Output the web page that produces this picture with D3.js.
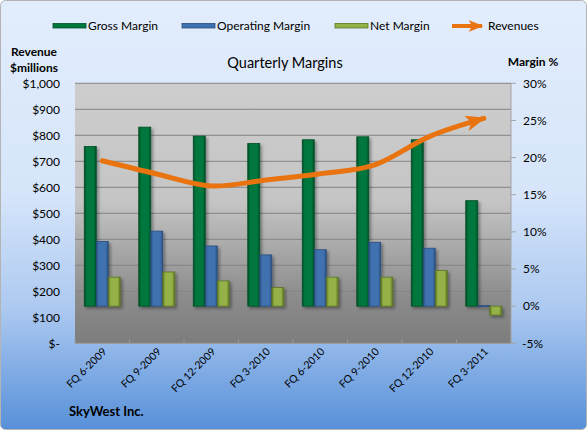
<!DOCTYPE html>
<html>
<head>
<meta charset="utf-8">
<script src="https://cdn.jsdelivr.net/npm/d3@7.9.0/dist/d3.min.js"></script>
<style>
  body { margin: 0; }
  svg { display: block; font-family: Lato, "Open Sans", sans-serif; }
  text { fill: #000; }
</style>
</head>
<body>
<svg id="chart" width="587" height="430"></svg>
<script>
const categories = ['FQ 6-2009', 'FQ 9-2009', 'FQ 12-2009', 'FQ 3-2010', 'FQ 6-2010', 'FQ 9-2010', 'FQ 12-2010', 'FQ 3-2011'];
const grossMargin = [21.5, 24.1, 22.9, 21.9, 22.4, 22.8, 22.4, 14.2];
const operatingMargin = [8.7, 10.1, 8.1, 6.9, 7.6, 8.6, 7.8, 0.1];
const netMargin = [3.9, 4.6, 3.4, 2.5, 3.9, 3.9, 4.8, -1.2];
const revenues = [702, 651, 605, 628, 652, 686, 795, 865];
const revenueTicks = [0, 100, 200, 300, 400, 500, 600, 700, 800, 900, 1000];
const marginTicks = [-5, 0, 5, 10, 15, 20, 25, 30];
const seriesNames = ['Gross Margin', 'Operating Margin', 'Net Margin'];

let colors = {
  'Gross Margin': ['#004f27', '#00773d'],
  'Operating Margin': ['#2a4e7e', '#4072b0'],
  'Net Margin': ['#5c7424', '#94b246'],
};
let orange = '#e8730f';

let svg = d3.select('#chart');
let defs = svg.append('defs');

let bg = defs.append('linearGradient').attr('id', 'bg').attr('x1', 0).attr('y1', 0).attr('x2', 0).attr('y2', 1);
bg.append('stop').attr('offset', '0%').attr('stop-color', '#e2edfc');
bg.append('stop').attr('offset', '45%').attr('stop-color', '#d6e5fa');
bg.append('stop').attr('offset', '72%').attr('stop-color', '#acc9f0');
bg.append('stop').attr('offset', '100%').attr('stop-color', '#5790d9');

let wall = defs.append('linearGradient').attr('id', 'wall').attr('x1', 0).attr('y1', 0).attr('x2', 0).attr('y2', 1);
wall.append('stop').attr('offset', '0%').attr('stop-color', '#cdcdcd');
wall.append('stop').attr('offset', '45%').attr('stop-color', '#c5c5c5');
wall.append('stop').attr('offset', '82%').attr('stop-color', '#8c8c8c');
wall.append('stop').attr('offset', '100%').attr('stop-color', '#7d7d7d');

seriesNames.forEach((name, i) => {
  let g = defs.append('linearGradient').attr('id', 'bar' + i).attr('x1', 0).attr('y1', 0).attr('x2', 1).attr('y2', 0);
  g.append('stop').attr('offset', '0%').attr('stop-color', colors[name][0]);
  g.append('stop').attr('offset', '22%').attr('stop-color', colors[name][1]);
  g.append('stop').attr('offset', '78%').attr('stop-color', colors[name][1]);
  g.append('stop').attr('offset', '100%').attr('stop-color', colors[name][0]);
});

defs.append('filter').attr('id', 'shadow').attr('x', '-30%').attr('y', '-10%').attr('width', '160%').attr('height', '130%')
  .append('feDropShadow').attr('dx', 2).attr('dy', 2).attr('stdDeviation', 1.5).attr('flood-opacity', 0.35);

defs.append('marker')
  .attr('id', 'arrow')
  .attr('markerUnits', 'userSpaceOnUse')
  .attr('viewBox', '0 0 20 16')
  .attr('refX', 18).attr('refY', 8)
  .attr('markerWidth', 20).attr('markerHeight', 16)
  .attr('orient', 'auto')
  .append('path')
  .attr('d', 'M0,0 L20,8 L0,16 L5,8 Z')
  .attr('fill', orange);

defs.append('marker')
  .attr('id', 'arrowSmall')
  .attr('markerUnits', 'userSpaceOnUse')
  .attr('viewBox', '0 0 20 16')
  .attr('refX', 18).attr('refY', 8)
  .attr('markerWidth', 15).attr('markerHeight', 12)
  .attr('orient', 'auto')
  .append('path')
  .attr('d', 'M0,0 L20,8 L0,16 L5,8 Z')
  .attr('fill', orange);

svg.append('rect')
  .attr('x', 0.5).attr('y', 0.5).attr('width', 586).attr('height', 429)
  .attr('rx', 5).attr('fill', 'url(#bg)').attr('stroke', '#b4b4b4');

let plotLeft = 75, plotRight = 511, plotTop = 83.3, plotBottom = 343.3;

let x = d3.scaleBand().domain(categories).range([plotLeft, plotRight]).paddingInner(0.34).paddingOuter(0.17);
let xc = d3.scalePoint().domain(categories).range([plotLeft, plotRight]).padding(0.5);
let sub = d3.scaleBand().domain(seriesNames).range([0, x.bandwidth()]);
let yRev = d3.scaleLinear().domain([0, 1000]).range([plotBottom, plotTop]);
let yPct = d3.scaleLinear().domain([-5, 30]).range([plotBottom, plotTop]);

svg.append('rect')
  .attr('x', plotLeft).attr('y', plotTop).attr('width', plotRight - plotLeft).attr('height', plotBottom - plotTop)
  .attr('fill', 'url(#wall)');

svg.append('g')
  .selectAll('line')
  .data(revenueTicks.filter((d) => d > 0))
  .join('line')
  .attr('x1', plotLeft).attr('x2', plotRight)
  .attr('y1', (d) => yRev(d)).attr('y2', (d) => yRev(d))
  .attr('stroke', '#848484').attr('stroke-width', 1);

// faint category ticks on the floor
svg.append('g')
  .selectAll('line')
  .data(d3.range(categories.length + 1))
  .join('line')
  .attr('x1', (i) => plotLeft + i * x.step()).attr('x2', (i) => plotLeft + i * x.step())
  .attr('y1', plotBottom - 4).attr('y2', plotBottom)
  .attr('stroke', '#9a9a9a');
svg.append('line')
  .attr('x1', plotLeft).attr('x2', plotRight).attr('y1', plotBottom).attr('y2', plotBottom)
  .attr('stroke', '#9c9c9c');

let barData = [];
categories.forEach((c, i) => {
  barData.push({ cat: c, name: 'Gross Margin', value: grossMargin[i], idx: 0 });
  barData.push({ cat: c, name: 'Operating Margin', value: operatingMargin[i], idx: 1 });
  barData.push({ cat: c, name: 'Net Margin', value: netMargin[i], idx: 2 });
});

svg.append('g')
  .attr('filter', 'url(#shadow)')
  .selectAll('rect')
  .data(barData)
  .join('rect')
  .attr('x', (d) => x(d.cat) + sub(d.name))
  .attr('width', sub.bandwidth())
  .attr('y', (d) => yPct(Math.max(0, d.value)))
  .attr('height', (d) => Math.max(1, Math.abs(yPct(d.value) - yPct(0))))
  .attr('fill', (d) => `url(#bar${d.idx})`)
  .attr('stroke', (d) => colors[d.name][0])
  .attr('stroke-width', 0.8);

let line = d3.line()
  .x((d, i) => xc(categories[i]))
  .y((d) => yRev(d))
  .curve(d3.curveCardinal.tension(0));

svg.append('path')
  .attr('d', line(revenues))
  .attr('fill', 'none')
  .attr('stroke', orange)
  .attr('stroke-width', 5)
  .attr('stroke-linecap', 'round')
  .attr('marker-end', 'url(#arrow)');

// left axis
svg.append('g')
  .selectAll('text')
  .data(revenueTicks)
  .join('text')
  .attr('x', 60)
  .attr('y', (d) => yRev(d))
  .attr('dy', '0.35em')
  .attr('text-anchor', 'end')
  .attr('font-size', 12)
  .text((d) => d === 0 ? '$-' : d3.format('$,')(d));

// right axis
svg.append('line')
  .attr('x1', plotRight).attr('x2', plotRight).attr('y1', plotTop).attr('y2', plotBottom)
  .attr('stroke', '#a3a3a3');
svg.append('g')
  .selectAll('line')
  .data(marginTicks)
  .join('line')
  .attr('x1', plotRight).attr('x2', plotRight + 5)
  .attr('y1', (d) => yPct(d)).attr('y2', (d) => yPct(d))
  .attr('stroke', '#a3a3a3');
svg.append('g')
  .selectAll('text')
  .data(marginTicks)
  .join('text')
  .attr('x', (d) => d < 0 ? 522 : 523)
  .attr('y', (d) => yPct(d))
  .attr('dy', '0.35em')
  .attr('font-size', 12)
  .text((d) => d + '%');

// category labels
svg.append('g')
  .selectAll('text')
  .data(categories)
  .join('text')
  .attr('text-anchor', 'end')
  .attr('font-size', 10.5)
  .attr('transform', (d) => `translate(${xc(d) + 5},${plotBottom + 9}) rotate(-45)`)
  .text((d) => d);

svg.append('text')
  .attr('x', 285).attr('y', 63).attr('dy', '0.35em')
  .attr('text-anchor', 'middle').attr('font-size', 14.5)
  .text('Quarterly Margins');

svg.append('text')
  .attr('x', 34).attr('y', 52).attr('dy', '0.35em')
  .attr('text-anchor', 'middle').attr('font-size', 12).attr('font-weight', 'bold')
  .text('Revenue');
svg.append('text')
  .attr('x', 34).attr('y', 68).attr('dy', '0.35em')
  .attr('text-anchor', 'middle').attr('font-size', 12).attr('font-weight', 'bold')
  .text('$millions');
svg.append('text')
  .attr('x', 533).attr('y', 62).attr('dy', '0.35em')
  .attr('text-anchor', 'middle').attr('font-size', 12).attr('font-weight', 'bold')
  .text('Margin %');

svg.append('text')
  .attr('x', 69).attr('y', 411).attr('dy', '0.35em')
  .attr('font-size', 13).attr('font-weight', 'bold')
  .text('SkyWest Inc.');

// legend
let legendX = [53, 182, 335];
seriesNames.forEach((name, i) => {
  svg.append('rect')
    .attr('x', legendX[i]).attr('y', 23.5).attr('width', 33).attr('height', 4.5)
    .attr('fill', colors[name][1]).attr('stroke', colors[name][0]).attr('stroke-width', 0.8);
  svg.append('text')
    .attr('x', legendX[i] + 35).attr('y', 26).attr('dy', '0.35em')
    .attr('font-size', 12)
    .text(name);
});
svg.append('line')
  .attr('x1', 452).attr('x2', 482).attr('y1', 26).attr('y2', 26)
  .attr('stroke', orange).attr('stroke-width', 4)
  .attr('marker-end', 'url(#arrowSmall)');
svg.append('text')
  .attr('x', 488).attr('y', 26).attr('dy', '0.35em')
  .attr('font-size', 12)
  .text('Revenues');
</script>
</body>
</html>
